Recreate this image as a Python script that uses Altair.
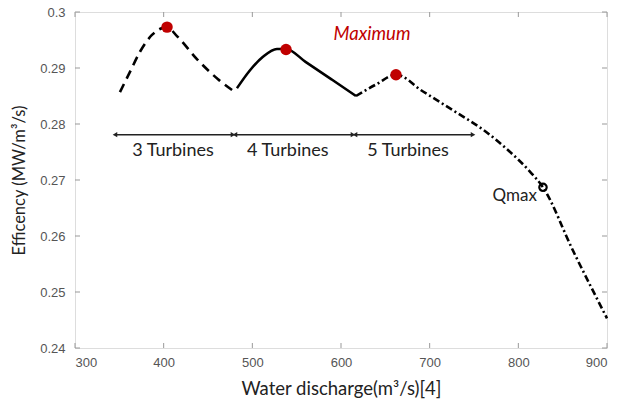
import altair as alt
import pandas as pd

# ---- data ----
seg3_x = [350.7, 362.0, 373.3, 386.8, 403.8, 415.0, 438.0, 461.3, 480.4]
seg3_y = [0.2857, 0.2893, 0.2929, 0.2959, 0.2973, 0.2957, 0.2915, 0.2880, 0.2857]

seg4_x = [482.7, 497.4, 512.0, 527.8, 538.0, 560.0, 590.0, 616.9]
seg4_y = [0.2864, 0.2896, 0.2920, 0.2934, 0.2934, 0.2911, 0.2879, 0.2850]

seg5_x = [616.9, 640.0, 662.0, 692.5, 730.8, 760.1, 787.2, 813.1, 827.8, 861.6, 900.0]
seg5_y = [0.2850, 0.2871, 0.2888, 0.2858, 0.2820, 0.2790, 0.2755, 0.2715, 0.2687, 0.2574, 0.2453]

max_x = [403.8, 538.0, 662.0]
max_y = [0.2973, 0.2933, 0.2888]

qmax_x = [827.8]
qmax_y = [0.2687]

arrow_start = [345.1, 480.4, 615.8]
arrow_end = [478.2, 613.5, 748.9]
arrow_y = 0.2781
arrow_labels = ["3 Turbines", "4 Turbines", "5 Turbines"]
label_x = [410.5, 540.0, 675.5]
label_y = 0.2752

x_ticks = [300, 400, 500, 600, 700, 800, 900]
y_ticks = [0.24, 0.25, 0.26, 0.27, 0.28, 0.29, 0.30]

W, H = 532, 336
xs = alt.Scale(domain=[300, 900], nice=False)
ys = alt.Scale(domain=[0.24, 0.30], nice=False)

tick_font = "Liberation Sans"
text_font = "Lato"

xaxis = alt.Axis(values=x_ticks, title="Water discharge(m³/s)[4]", grid=False, domain=False,
                 tickSize=0, labelPadding=8, labelFont=tick_font, labelFontSize=13,
                 labelColor="#555555", titleFont=text_font, titleFontSize=18.5,
                 titleFontWeight="normal", titleColor="#222222", titlePadding=10)
yaxis = alt.Axis(values=y_ticks, format="~g", title="Efficency (MW/m³/s)", grid=False,
                 domain=False, tickSize=0, labelPadding=10, labelFont=tick_font,
                 labelFontSize=13, labelColor="#555555", titleFont=text_font,
                 titleFontSize=16.5, titleFontWeight="normal", titleColor="#222222",
                 titlePadding=12)

def seg_df(xv, yv):
    return pd.DataFrame({"x": xv, "y": yv})

l3 = alt.Chart(seg_df(seg3_x, seg3_y)).mark_line(
    color="black", strokeWidth=2.6, strokeDash=[9, 6], interpolate="monotone").encode(
    x=alt.X("x:Q", scale=xs, axis=xaxis), y=alt.Y("y:Q", scale=ys, axis=yaxis))
l4 = alt.Chart(seg_df(seg4_x, seg4_y)).mark_line(
    color="black", strokeWidth=2.6, interpolate="monotone").encode(
    x=alt.X("x:Q", scale=xs), y=alt.Y("y:Q", scale=ys))
l5 = alt.Chart(seg_df(seg5_x, seg5_y)).mark_line(
    color="black", strokeWidth=2.6, strokeDash=[7, 3, 2, 3], interpolate="monotone").encode(
    x=alt.X("x:Q", scale=xs), y=alt.Y("y:Q", scale=ys))

dots = alt.Chart(seg_df(max_x, max_y)).mark_point(
    filled=True, color="#c00000", size=130, opacity=1).encode(
    x=alt.X("x:Q", scale=xs), y=alt.Y("y:Q", scale=ys))
qm = alt.Chart(seg_df(qmax_x, qmax_y)).mark_point(
    filled=False, color="black", size=55, strokeWidth=2.2, opacity=1).encode(
    x=alt.X("x:Q", scale=xs), y=alt.Y("y:Q", scale=ys))

adf = pd.DataFrame({"x1": arrow_start, "x2": arrow_end, "y": [arrow_y] * 3})
arr = alt.Chart(adf).mark_rule(color="#222222", strokeWidth=1.5).encode(
    x=alt.X("x1:Q", scale=xs), x2="x2:Q", y=alt.Y("y:Q", scale=ys))
ahl = alt.Chart(adf).mark_point(shape="triangle-left", filled=True, color="#222222",
                                size=28, opacity=1).encode(
    x=alt.X("x1:Q", scale=xs), y=alt.Y("y:Q", scale=ys))
ahr = alt.Chart(adf).mark_point(shape="triangle-right", filled=True, color="#222222",
                                size=28, opacity=1).encode(
    x=alt.X("x2:Q", scale=xs), y=alt.Y("y:Q", scale=ys))

ldf = pd.DataFrame({"x": label_x, "y": [label_y] * 3, "t": arrow_labels})
labels = alt.Chart(ldf).mark_text(font=text_font, fontSize=18, color="#222222").encode(
    x=alt.X("x:Q", scale=xs), y=alt.Y("y:Q", scale=ys), text="t:N")

mtxt = alt.Chart(pd.DataFrame({"x": [635], "y": [0.2961], "t": ["Maximum"]})).mark_text(
    font=text_font, fontSize=18.5, fontStyle="italic", color="#c00000").encode(
    x=alt.X("x:Q", scale=xs), y=alt.Y("y:Q", scale=ys), text="t:N")
qtxt = alt.Chart(pd.DataFrame({"x": [796], "y": [0.2671], "t": ["Qmax"]})).mark_text(
    font=text_font, fontSize=17, color="#222222").encode(
    x=alt.X("x:Q", scale=xs), y=alt.Y("y:Q", scale=ys), text="t:N")

xt = pd.DataFrame({"v": x_ticks})
yt = pd.DataFrame({"v": y_ticks})
tb = alt.Chart(xt).mark_rule(color="#999999", strokeWidth=1).encode(
    x=alt.X("v:Q", scale=xs), y=alt.value(H - 5), y2=alt.value(H))
tt = alt.Chart(xt).mark_rule(color="#999999", strokeWidth=1).encode(
    x=alt.X("v:Q", scale=xs), y=alt.value(0), y2=alt.value(5))
tl = alt.Chart(yt).mark_rule(color="#999999", strokeWidth=1).encode(
    y=alt.Y("v:Q", scale=ys), x=alt.value(0), x2=alt.value(5))
tr = alt.Chart(yt).mark_rule(color="#999999", strokeWidth=1).encode(
    y=alt.Y("v:Q", scale=ys), x=alt.value(W - 5), x2=alt.value(W))

chart = alt.layer(tb, tt, tl, tr, l3, l4, l5, arr, ahl, ahr, labels, dots, qm, mtxt, qtxt).properties(
    width=W, height=H,
    autosize=alt.AutoSizeParams(type="none"),
    padding={"left": 75, "top": 12, "right": 16, "bottom": 54},
).configure_view(stroke="#999999", strokeWidth=1.5).configure(background="white")

chart.save("out.html", embed_options={"renderer": "svg", "actions": False})
